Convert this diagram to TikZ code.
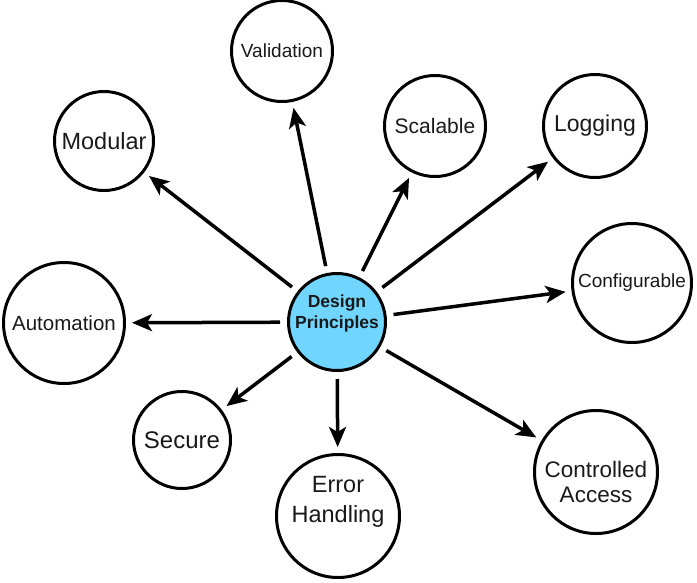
\documentclass[tikz,border=0pt]{standalone}
\usepackage{fontspec}
\setmainfont{Liberation Sans}
\usetikzlibrary{arrows.meta}

\definecolor{dpblue}{RGB}{112,214,255}

\begin{document}
\begin{tikzpicture}[x=1pt, y=-1pt,
  bubble/.style={draw=black, line width=3pt, circle, inner sep=0pt, text=black!90, align=center},
  spoke/.style={line width=3.5pt, -{Stealth[length=20pt, width=17pt, inset=5pt]}, shorten <=7pt, shorten >=6pt}]
\useasboundingbox (0,0) rectangle (697,582);

\node[bubble, fill=dpblue, minimum size=97,
  label={[font=\fontsize{17.5}{21}\selectfont\bfseries, align=center, text=black!90, yshift=9]center:Design\\Principles}] (dp) at (337,322) {};

\node[bubble, minimum size=101, font=\fontsize{19}{22}\selectfont] (val) at (282,51) {Validation};
\node[bubble, minimum size=99, font=\fontsize{23.5}{27}\selectfont] (mod) at (104,141) {Modular};
\node[bubble, minimum size=101, font=\fontsize{21}{24}\selectfont] (sca) at (435,126) {Scalable};
\node[bubble, minimum size=103, font=\fontsize{23}{27}\selectfont] (log) at (595,126) {Logging};
\node[bubble, minimum size=119, font=\fontsize{19}{22}\selectfont] (cfg) at (632,283) {Configurable};
\node[bubble, minimum size=121, font=\fontsize{20.5}{24}\selectfont] (aut) at (64,323) {Automation};
\node[bubble, minimum size=97, font=\fontsize{24}{28}\selectfont] (sec) at (182,440) {Secure};
\node[bubble, minimum size=123,
  label={[font=\fontsize{23.5}{30}\selectfont, align=center, text=black!90, yshift=14.5]center:Error\\Handling}] (err) at (338,516) {};
\node[bubble, minimum size=123,
  label={[font=\fontsize{22.5}{25.5}\selectfont, align=center, text=black!90, yshift=-10]center:Controlled\\Access}] (ctl) at (596,472) {};

\draw[spoke] (dp) -- (val);
\draw[spoke] (dp) -- (mod);
\draw[spoke] (dp) -- (sca);
\draw[spoke] (dp) -- (log);
\draw[spoke] (dp) -- (cfg);
\draw[spoke] (dp) -- (aut);
\draw[spoke] (dp) -- (sec);
\draw[spoke] (dp) -- (err);
\draw[spoke] (dp) -- (ctl);

\end{tikzpicture}
\end{document}
